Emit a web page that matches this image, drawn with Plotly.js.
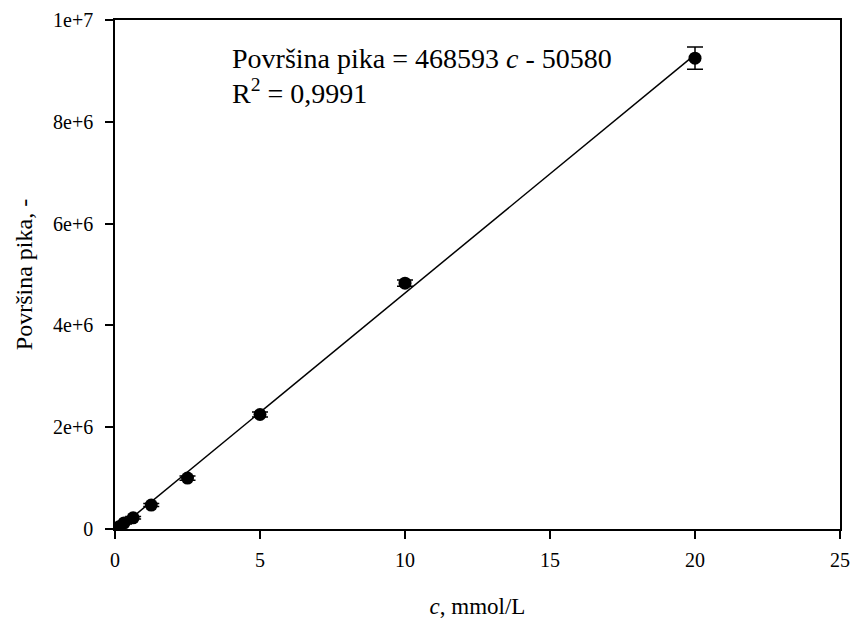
<!DOCTYPE html>
<html><head><meta charset="utf-8">
<script src="https://cdn.plot.ly/plotly-3.0.1.min.js"></script>
<style>body{margin:0;background:#fff}#g{width:857px;height:621px}</style>
</head><body><div id="g"></div>
<script>
const conc = [0, 0.15625, 0.3125, 0.625, 1.25, 2.5, 5, 10, 20];
const area = [10000, 50000, 120000, 220000, 470000, 1000000, 2250000, 4830000, 9250000];
const areaErr = [10000, 15000, 20000, 25000, 30000, 40000, 50000, 60000, 220000];
const fitX = [0, 20];
const fitY = [-50580, 9321280];

const F = "'Liberation Serif', 'Times New Roman', serif";
const data = [
  {x: fitX, y: fitY, mode: 'lines', type: 'scatter', line: {color: '#000', width: 1.5}, hoverinfo: 'skip'},
  {x: conc, y: area, mode: 'markers', type: 'scatter',
   marker: {color: '#000', size: 13},
   error_y: {type: 'data', array: areaErr, visible: true, color: '#000', thickness: 1.5, width: 8}}
];
const layout = {
  width: 857, height: 621, showlegend: false,
  paper_bgcolor: '#fff', plot_bgcolor: '#fff',
  margin: {l: 115, r: 17, t: 20, b: 92},
  font: {family: F, color: '#000'},
  xaxis: {range: [0, 25], tickvals: [0, 5, 10, 15, 20, 25], ticktext: ['0','5','10','15','20','25'],
    showgrid: false, zeroline: false, showline: true, mirror: true, linecolor: '#000', linewidth: 1.5,
    ticks: 'outside', ticklen: 8, tickwidth: 1.5, tickcolor: '#000', ticklabelstandoff: 4,
    tickfont: {family: F, size: 20, color: '#000'},
    title: {text: '<i>c</i>, mmol/L', font: {family: F, size: 23, color: '#000'}, standoff: 28}},
  yaxis: {range: [0, 10000000], tickvals: [0, 2000000, 4000000, 6000000, 8000000, 10000000],
    ticktext: ['0', '2e+6', '4e+6', '6e+6', '8e+6', '1e+7'],
    showgrid: false, zeroline: false, showline: true, mirror: true, linecolor: '#000', linewidth: 1.5,
    ticks: 'outside', ticklen: 8, tickwidth: 1.5, tickcolor: '#000', ticklabelstandoff: 8,
    tickfont: {family: F, size: 20, color: '#000'},
    title: {text: 'Površina pika, -\u00A0\u00A0\u00A0\u00A0', font: {family: F, size: 24, color: '#000'}, standoff: 14}},
  annotations: [
    {xref: 'paper', yref: 'paper', x: 0.159, y: 0.925, xanchor: 'left', yanchor: 'middle', showarrow: false,
     align: 'left', text: 'Površina pika = 468593 <i>c</i> - 50580', font: {family: F, size: 28, color: '#000'}},
    {xref: 'paper', yref: 'paper', x: 0.159, y: 0.859, xanchor: 'left', yanchor: 'middle', showarrow: false,
     align: 'left', text: 'R<sup>2</sup> = 0,9991', font: {family: F, size: 28, color: '#000'}}
  ]
};
Plotly.newPlot('g', data, layout, {displayModeBar: false});
</script></body></html>
